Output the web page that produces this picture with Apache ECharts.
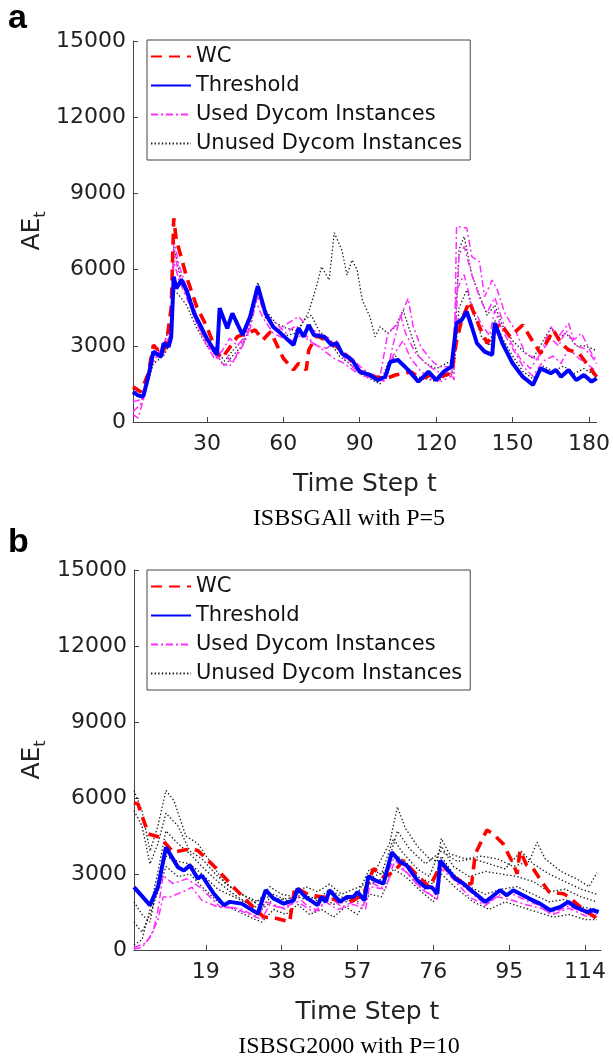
<!DOCTYPE html>
<html><head><meta charset="utf-8">
<script src="https://cdn.jsdelivr.net/npm/echarts@6/dist/echarts.min.js"></script>
<style>html,body{margin:0;padding:0;background:#fff}#c{width:613px;height:1061px}</style>
</head><body><div id="c"></div>
<script>
// ---------- tick labels / names ----------
const yTicks = [0, 3000, 6000, 9000, 12000, 15000];
const xTicksA = [30, 60, 90, 120, 150, 180];
const xTicksB = [19, 38, 57, 76, 95, 114];
const legendNames = ['WC', 'Threshold', 'Used Dycom Instances', 'Unused Dycom Instances'];
const captionA = 'ISBSGAll with P=5';
const captionB = 'ISBSG2000 with P=10';
const xName = 'Time Step t';

// ---------- panel a (ISBSGAll, P=5) ----------
const thrA = [[1,1190],[3,1050],[5,1000],[7,1780],[9,2770],[12,2570],[13,3100],[15,2960],[16,3360],[17,5720],[18,5260],[20,5590],[22,5200],[25,4280],[28,3690],[30,3290],[34,2640],[35,4480],[38,3690],[40,4280],[44,3425],[47,4150],[50,5350],[53,4280],[56,3750],[59,3490],[64,3030],[66,3690],[68,3360],[70,3820],[72,3425],[76,3360],[79,3030],[81,3100],[83,2700],[87,2440],[90,1980],[94,1850],[97,1650],[100,1780],[102,2375],[105,2440],[109,2050],[113,1590],[117,1980],[120,1650],[123,1980],[126,2180],[128,3890],[130,4015],[132,4345],[134,3750],[136,3100],[139,2770],[142,2640],[143,3890],[146,3100],[150,2310],[154,1780],[158,1460],[161,2110],[165,1920],[167,2050],[169,1780],[172,2050],[175,1650],[178,1850],[181,1590],[183,1720]];
const wcA = [[1,1390],[4,1190],[7,1900],[9,3030],[12,2700],[14,3000],[16,4500],[17,8020],[18,7165],[20,6460],[22,5720],[26,4540],[30,3750],[34,2715],[36,2520],[42,3360],[49,3620],[52,3230],[55,3555],[60,2510],[64,2050],[66,2310],[69,2050],[70,2835],[73,3400],[80,3050],[85,2600],[90,2000],[95,1800],[100,1700],[104,1850],[108,1920],[110,1980],[114,1700],[118,1850],[122,1800],[126,1920],[128,3200],[130,4000],[133,4740],[137,3750],[140,3100],[145,3890],[149,3360],[154,3820],[158,3160],[161,2700],[166,3620],[169,3100],[172,2835],[176,2715],[180,2180],[183,1780]];
const usedA1 = [[1,800],[5,900],[9,2600],[13,2900],[16,3500],[17,6800],[19,5800],[22,5000],[26,3900],[30,3100],[34,2500],[37,2700],[40,2300],[44,3100],[47,3700],[50,5000],[54,4000],[58,3600],[62,3900],[66,4150],[70,3700],[74,3500],[78,3300],[82,2800],[86,2600],[90,2200],[94,1900],[98,1800],[101,3490],[105,3890],[109,4870],[111,3750],[114,2960],[118,2440],[121,2180],[125,2180],[127,1650],[128,7700],[132,7640],[134,6510],[137,6310],[139,4930],[142,5590],[144,5200],[147,4280],[151,3620],[155,2700],[160,2440],[165,3750],[168,3360],[172,3890],[174,3230],[177,3490],[181,2700],[183,2440]];
const usedA2 = [[1,400],[4,700],[8,2200],[12,2800],[16,3800],[17,7200],[19,6200],[22,5300],[26,4200],[30,3300],[33,2800],[36,2300],[39,2200],[43,2800],[46,3400],[49,5200],[53,4200],[57,3900],[61,3500],[65,3800],[69,3300],[73,3000],[77,2900],[81,3200],[84,2500],[88,2100],[92,1900],[96,1750],[100,1600],[103,3000],[106,4200],[108,3500],[112,2700],[116,2300],[120,2000],[124,1900],[127,2100],[129,6600],[131,6900],[134,5800],[137,4900],[140,4300],[143,4900],[146,4000],[149,3200],[153,2500],[157,2100],[161,2700],[165,3300],[168,3000],[171,3600],[175,3000],[178,2900],[181,2600],[183,2300]];
const usedA3 = [[1,300],[3,150],[6,1200],[9,2500],[13,2700],[16,3300],[17,6300],[19,5600],[22,4900],[26,3900],[30,3000],[33,2500],[36,2800],[39,3300],[42,3000],[45,3400],[49,4800],[52,4100],[56,3500],[60,3300],[64,3200],[68,3500],[72,3100],[76,2800],[80,2500],[84,2300],[88,2000],[92,1800],[96,1700],[100,1600],[103,2600],[107,3200],[110,2500],[114,2000],[118,1700],[122,1600],[126,1800],[128,5200],[131,5800],[134,4600],[138,3800],[141,3400],[143,4400],[146,3600],[150,2900],[154,2200],[158,1800],[162,2400],[166,2600],[169,2300],[172,2900],[176,2500],[179,2300],[183,2000]];
const unusedA1 = [[1,1300],[5,1100],[9,2600],[13,3000],[16,4000],[17,6900],[19,6000],[22,5100],[26,4000],[30,3200],[34,2800],[37,2400],[40,2800],[44,3200],[47,4300],[50,5500],[53,4400],[57,3900],[61,3700],[65,3600],[67,3800],[70,4345],[73,5330],[75,6115],[78,5590],[80,7450],[83,6770],[85,5790],[87,6380],[89,5985],[91,4800],[94,4150],[96,3360],[98,3750],[101,3490],[104,3750],[107,4410],[110,3490],[113,2600],[116,2300],[120,2100],[124,2300],[127,2500],[129,6800],[131,7300],[134,5800],[137,5000],[140,4200],[143,4600],[146,3800],[150,3200],[154,2800],[158,2500],[162,3200],[165,3700],[168,3300],[171,3500],[175,3000],[178,3000],[181,2900],[183,2800]];
const unusedA2 = [[1,1100],[5,900],[9,2300],[13,2600],[16,3200],[17,5200],[19,5000],[22,4600],[26,3700],[30,3000],[34,2600],[37,2200],[40,2600],[44,3000],[47,3800],[50,5200],[53,4100],[57,3700],[61,3400],[65,3500],[68,4000],[71,4200],[74,3600],[78,3200],[82,2600],[86,2300],[90,1900],[94,1700],[98,1500],[101,2300],[104,2600],[108,2200],[112,1800],[116,1700],[120,1600],[124,1800],[127,2000],[129,4500],[132,5200],[135,4200],[138,3300],[141,3000],[143,4000],[146,3300],[150,2600],[154,2000],[158,1700],[162,2200],[166,2000],[170,2200],[174,1900],[178,2100],[183,1800]];

// ---------- panel b (ISBSG2000, P=10) ----------
const thrB = [[1,2480],[5,1770],[7,2480],[9,4050],[12,3270],[13.5,3140],[15,3340],[17,2810],[18,2940],[21,2220],[23.5,1770],[25,1900],[28,1830],[32,1440],[34,2360],[36,2030],[38.5,1830],[41,1960],[42,2420],[44,2090],[47,1770],[48,2090],[49,1900],[50,2360],[52.6,1900],[54.3,2090],[56,2090],[57,2290],[58.7,1960],[59.7,2910],[61.4,2750],[63.5,2620],[65.6,3860],[67.7,3470],[69.3,3340],[72,2750],[74,2480],[75.6,2480],[77,2220],[77.7,3530],[79.4,3210],[81.5,2810],[83.5,2620],[86,2290],[89,1900],[90.6,2090],[92.7,2360],[94.4,2160],[96,2360],[97.7,2220],[100,2030],[102.7,1830],[105.3,1570],[107.8,1700],[109.8,1900],[111.5,1700],[114.5,1500],[116,1570],[117.4,1500]];
const wcB = [[1,5820],[2,5760],[4.6,4580],[7.5,4450],[10.8,3860],[15,3990],[17,3930],[21.7,3210],[25.5,2550],[30,1830],[33.4,1310],[36.8,1240],[40,1110],[41.3,2480],[45,2160],[48.5,2090],[53.5,1900],[56,1960],[58.5,2220],[61,3210],[63.5,2880],[66,3070],[68.5,3530],[72,2940],[75,2480],[78,3400],[81,2900],[84,2600],[85.6,2620],[86.5,3790],[89.4,4740],[91,4580],[93.5,4190],[96,3400],[97,3010],[97.7,3930],[99.4,3340],[101,3210],[103.5,2620],[105,2290],[108.6,2220],[110,2090],[112.8,1700],[117,1240]];
const usedB1 = [[1,100],[4,280],[5.8,730],[7,1570],[8.3,2940],[10.8,2620],[14.2,2810],[17.5,2480],[22.6,1700],[25,1700],[28,1600],[32,1300],[34,1900],[36,1800],[39,1600],[42,2100],[44,1800],[47,1550],[50,2100],[53,1700],[56,1900],[58.5,1750],[60,2700],[63,2450],[66,3600],[68,3300],[72,2600],[76,2100],[78,3350],[82,2700],[86,2200],[89,1800],[93,2200],[96,2200],[100,1900],[103,1750],[105,1450],[108,1600],[110,1750],[112,1600],[115,1400],[117,1400]];
const usedB2 = [[1,50],[3,100],[5,500],[7,1200],[8.3,2090],[10,2090],[14.2,2360],[15.5,2480],[18,1960],[22,1700],[26,1650],[30,1400],[33,1200],[35,1800],[38,1650],[42,1900],[46,1500],[49,1900],[52,1600],[56,1800],[59,1600],[60,2500],[64,2400],[66,3400],[69,3100],[73,2400],[77,2000],[78,3200],[81,2800],[85,2100],[89,1750],[92,2100],[95,2000],[99,1800],[103,1650],[106,1400],[110,1650],[114,1350],[117,1300]];
const unusedB1 = [[1,6300],[3,5500],[5,3900],[7,4900],[9,6300],[11,5900],[14,4500],[17,4200],[20,3500],[24,2600],[28,2200],[32,1900],[35,2500],[38,2200],[41,2100],[44,2500],[47,2300],[50,2600],[53,2200],[56,2400],[59,2600],[62,3300],[65,4200],[67,5650],[69,4800],[72,4100],[75,3600],[77,3500],[78,4400],[80,3800],[84,3600],[88,3700],[92,3600],[96,3300],[100,3500],[102,4250],[104,3600],[108,3100],[112,2800],[115,2500],[117,3050]];
const unusedB2 = [[1,5500],[3,4900],[5,3400],[7,4200],[9,5400],[12,4900],[15,3900],[18,3600],[22,2900],[26,2400],[30,2000],[33,1700],[36,2200],[40,1900],[43,2200],[47,2000],[50,2400],[54,2000],[57,2200],[60,3200],[63,3000],[66,4400],[68,3900],[72,3200],[75,2900],[78,4100],[81,3300],[85,2900],[89,3100],[93,3000],[97,2900],[101,2700],[105,2300],[109,2400],[113,2100],[117,1900]];
const unusedB3 = [[1,1100],[3,700],[5,1400],[7,2300],[9,3300],[12,2900],[15,3000],[18,2500],[22,1900],[26,1600],[30,1300],[33,1100],[36,1600],[39,1400],[42,1800],[45,1400],[48,1600],[51,1300],[54,1700],[57,1400],[60,2200],[63,2100],[66,3200],[69,2900],[73,2300],[76,1900],[78,3000],[82,2400],[86,1900],[90,1600],[94,1900],[98,1700],[102,1500],[106,1300],[110,1400],[114,1200],[117,1200]];
const unusedB4 = [[1,1900],[3,1400],[5,1100],[7,2700],[9,3700],[12,3500],[15,3400],[18,3000],[22,2400],[26,2100],[30,1800],[33,1600],[36,2000],[39,1800],[42,2400],[45,2000],[48,2100],[51,1800],[54,2000],[57,1900],[60,2600],[63,2800],[66,3800],[69,3500],[72,2900],[76,2600],[78,3700],[81,3000],[85,2500],[89,2200],[93,2400],[97,2500],[101,2200],[105,1900],[109,2000],[113,1700],[117,1600]];
const unusedB5 = [[1,200],[3,400],[5,1600],[7,3100],[9,4700],[12,4200],[15,3800],[18,3300],[22,2700],[26,2200],[30,1800],[34,2100],[38,2000],[42,2100],[46,1900],[50,2200],[54,1900],[58,2100],[61,2900],[64,3100],[67,4700],[70,4000],[74,3400],[78,3900],[82,3500],[86,3600],[90,3400],[94,3200],[98,3900],[101,3400],[105,3000],[109,2700],[113,2400],[117,2200]];

// ---------- styles ----------
const ST = {
  unused: {color:'#1a1a1a', width:1.3, type:[1.4,2.2]},
  used:   {color:'#ff2bff', width:1.5, type:[7,3,2,3]},
  wc:     {color:'#ff0000', width:3.6, type:[11,7]},
  thr:    {color:'#0000ff', width:4, type:'solid'}
};
function line(name, data, gi, st, z) {
  return {type:'line', name:name, data:data, xAxisIndex:gi, yAxisIndex:gi,
    symbol:'none', showSymbol:false, smooth:false, z:z, silent:true,
    lineStyle:{color:st.color, width:st.width, type:st.type},
    itemStyle:{color:st.color}};
}
const series = [];
[unusedA1, unusedA2].forEach(d => series.push(line(legendNames[3], d, 0, ST.unused, 1)));
[usedA1, usedA2, usedA3].forEach(d => series.push(line(legendNames[2], d, 0, ST.used, 2)));
series.push(line(legendNames[0], wcA, 0, ST.wc, 3));
series.push(line(legendNames[1], thrA, 0, ST.thr, 4));
[unusedB1, unusedB2, unusedB3, unusedB4, unusedB5].forEach(d => series.push(line(legendNames[3], d, 1, ST.unused, 1)));
[usedB1, usedB2].forEach(d => series.push(line(legendNames[2], d, 1, ST.used, 2)));
series.push(line(legendNames[0], wcB, 1, ST.wc, 3));
series.push(line(legendNames[1], thrB, 1, ST.thr, 4));

const FONT = 'DejaVu Sans';
const axisCol = '#444';
function xAx(gi, min, max, ticks) {
  return {type:'value', gridIndex:gi, min:min, max:max,
    axisLine:{show:true, lineStyle:{color:axisCol, width:1}},
    axisTick:{show:true, inside:true, length:5, customValues:ticks, lineStyle:{color:axisCol}},
    axisLabel:{customValues:ticks, fontFamily:FONT, fontSize:22, color:'#222', margin:11},
    splitLine:{show:false},
    name:xName, nameLocation:'middle', nameGap:50,
    nameTextStyle:{fontFamily:FONT, fontSize:25, color:'#222'}};
}
function yAx(gi) {
  return {type:'value', gridIndex:gi, min:0, max:15000, interval:3000,
    axisLine:{show:true, lineStyle:{color:axisCol, width:1}},
    axisTick:{show:true, inside:true, length:5, lineStyle:{color:axisCol}},
    axisLabel:{fontFamily:FONT, fontSize:22, color:'#222', margin:7,
      formatter: v => String(v)},
    splitLine:{show:false}};
}
function leg(top) {
  return {show:true, orient:'vertical', left:147, top:top, data:legendNames,
    itemWidth:40, itemHeight:14, itemGap:6, selectedMode:false, z:10,
    itemStyle:{opacity:0},
    textStyle:{fontFamily:FONT, fontSize:21, color:'#111', lineHeight:23},
    borderColor:'#444', borderWidth:1, backgroundColor:'#fff', padding:[5,8,5,3]};
}
function yName(y) {
  return {type:'text', x:32, y:y, rotation:Math.PI/2, z:20,
    style:{text:'{a|AE}{b|t}', align:'center', verticalAlign:'middle', fill:'#222',
      rich:{a:{fontFamily:FONT, fontSize:25, lineHeight:34, fill:'#222'},
            b:{fontFamily:FONT, fontSize:16, lineHeight:16, verticalAlign:'bottom', fill:'#222'}}}};
}

const chart = echarts.init(document.getElementById('c'), null, {renderer:'canvas'});
chart.setOption({
  animation:false,
  backgroundColor:'#fff',
  grid:[{left:133, top:41, width:465, height:381},
        {left:134, top:570, width:467, height:380}],
  xAxis:[xAx(0, 1, 183, xTicksA), xAx(1, 1, 118, xTicksB)],
  yAxis:[yAx(0), yAx(1)],
  legend:[leg(40), leg(570)],
  series:series,
  graphic:[
    {type:'text', x:8, y:2, style:{text:'a', fontFamily:'Liberation Sans', fontWeight:'bold', fontSize:34, fill:'#000'}},
    {type:'text', x:8, y:526, style:{text:'b', fontFamily:'Liberation Sans', fontWeight:'bold', fontSize:34, fill:'#000'}},
    {type:'text', x:349, y:519, style:{text:captionA, fontFamily:'Liberation Serif', fontSize:24, fill:'#000', align:'center', verticalAlign:'middle'}},
    {type:'text', x:349, y:1047, style:{text:captionB, fontFamily:'Liberation Serif', fontSize:24, fill:'#000', align:'center', verticalAlign:'middle'}},
    yName(231), yName(760)
  ]
});
</script></body></html>
